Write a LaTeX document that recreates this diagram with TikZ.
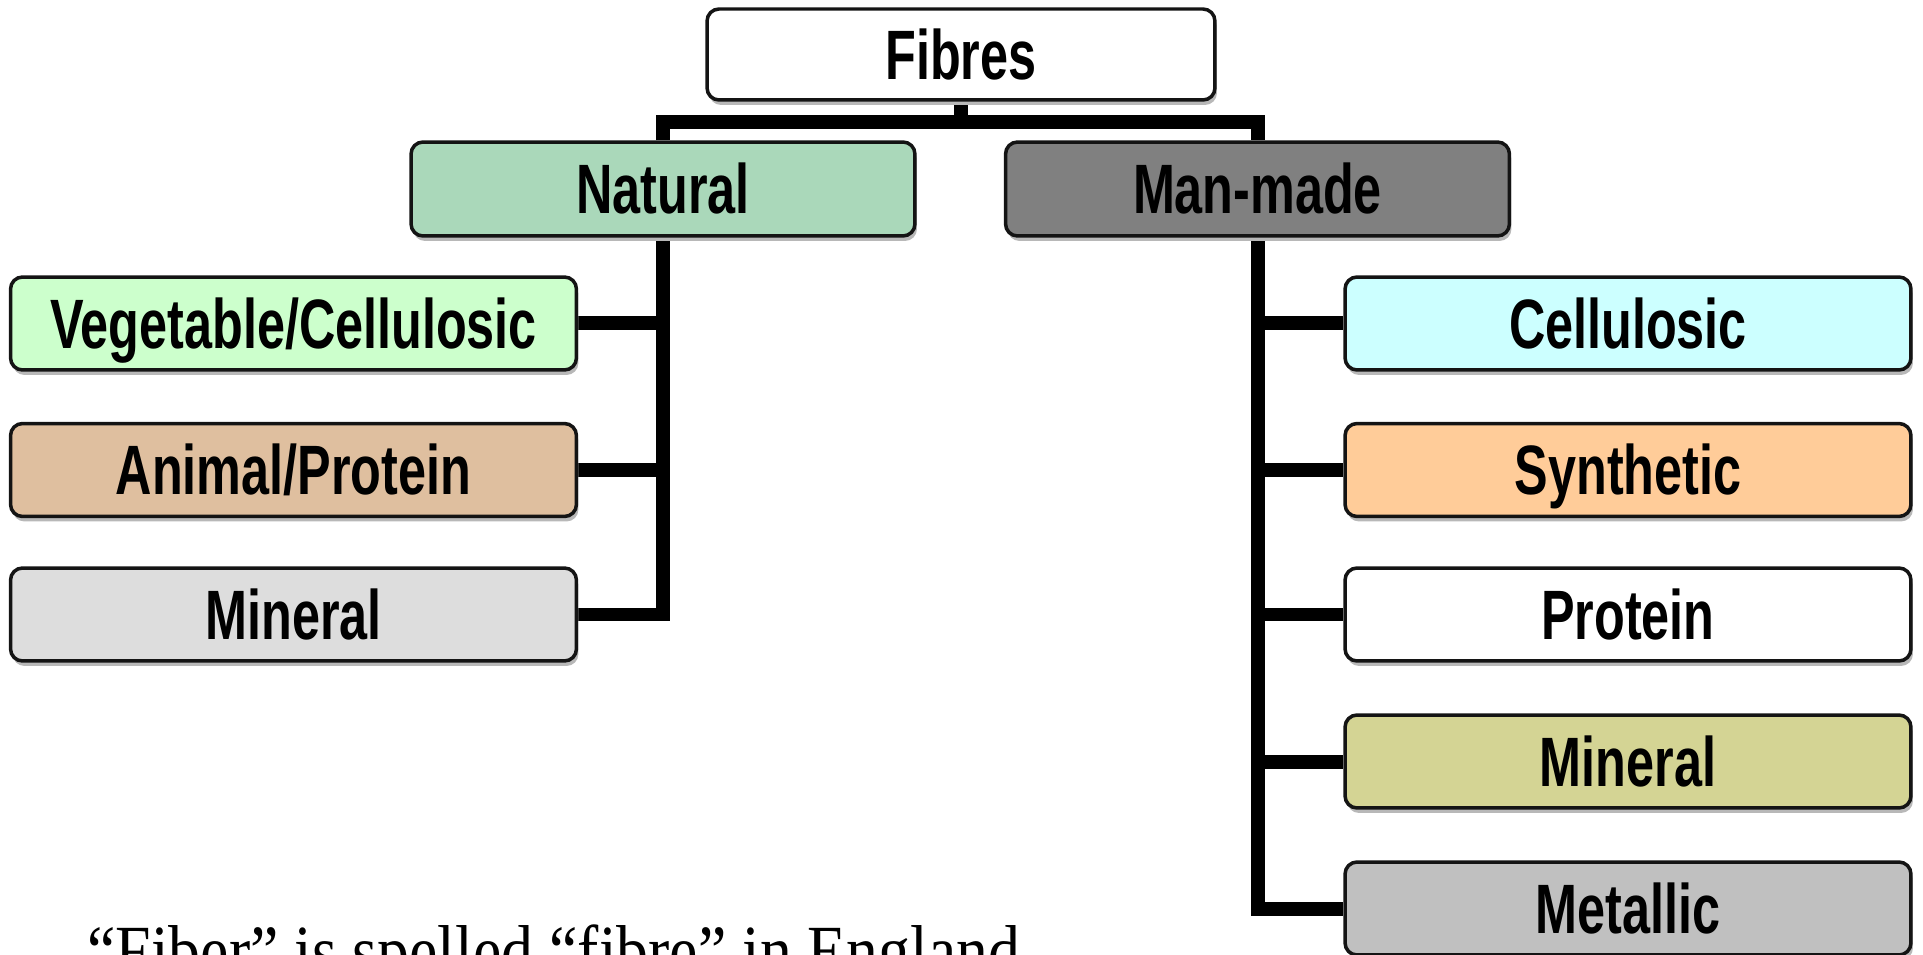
\documentclass[tikz,border=0pt]{standalone}
\usepackage{fontspec}
\usepackage{graphicx}
\usetikzlibrary{shadows}
\setmainfont{Liberation Sans}
\newfontfamily\notefont{Liberation Serif}[Ligatures=NoCommon]
\newcommand\narrowtext[1]{\scalebox{0.72}[1]{#1}}

\definecolor{natgreen}{RGB}{170,216,186}
\definecolor{mmgray}{RGB}{128,128,128}
\definecolor{vegfill}{RGB}{204,255,204}
\definecolor{animfill}{RGB}{223,191,159}
\definecolor{minlfill}{RGB}{221,221,221}
\definecolor{cellfill}{RGB}{204,255,255}
\definecolor{synfill}{RGB}{255,204,153}
\definecolor{minrfill}{RGB}{212,212,148}
\definecolor{metfill}{RGB}{192,192,192}

\pgfdeclarelayer{bg}
\pgfsetlayers{bg,main}

\begin{document}
\begin{tikzpicture}[x=0.02cm, y=-0.02cm,
  box/.style={draw=black!92, line width=0.07cm, rounded corners=0.24cm,
    inner sep=0pt, text height=1cm, text depth=0cm,
    font=\fontsize{39.8}{40}\selectfont\bfseries,
    drop shadow={shadow xshift=0.04cm, shadow yshift=-0.1cm,
      fill=black!28, opacity=1}},
  headbox/.style={box, minimum width=10.08cm, minimum height=1.88cm},
  leafbox/.style={box, minimum width=11.32cm, minimum height=1.86cm},
  conn/.style={line width=0.28cm, line join=miter, line cap=butt}]

\useasboundingbox (0,0) rectangle (1923,955);
\clip (0,0) rectangle (1923,955);

% root and the two main groups
\node[box, fill=white, minimum width=10.16cm, minimum height=1.82cm]
  (fibres) at (961,54.5) {\narrowtext{Fibres}};
\node[headbox, fill=natgreen] (natural) at (663,189) {\narrowtext{Natural}};
\node[headbox, fill=mmgray] (manmade) at (1257.5,189) {\narrowtext{Man-made}};

% natural fibres
\node[leafbox, fill=vegfill]  (veg)    at (293.5,323.5) {\narrowtext{Vegetable/Cellulosic}};
\node[leafbox, fill=animfill] (animal) at (293.5,470)   {\narrowtext{Animal/Protein}};
\node[leafbox, fill=minlfill] (minl)   at (293.5,614.5) {\narrowtext{Mineral}};

% man-made fibres
\node[leafbox, fill=cellfill] (cell)  at (1628,323.5) {\narrowtext{Cellulosic}};
\node[leafbox, fill=synfill]  (syn)   at (1628,470)   {\narrowtext{Synthetic}};
\node[leafbox, fill=white]    (prot)  at (1628,614.5) {\narrowtext{Protein}};
\node[leafbox, fill=minrfill] (minr)  at (1628,761.5) {\narrowtext{Mineral}};
\node[leafbox, fill=metfill]  (metal) at (1628,908.5) {\narrowtext{Metallic}};

% footnote
\node[anchor=base west, inner sep=0pt,
  font=\notefont\fontsize{41}{41}\selectfont]
  (note) at (87,975) {\scalebox{0.885}[1]{“Fiber” is spelled “fibre” in England}};

% tree connectors
\begin{pgfonlayer}{bg}
\coordinate (split) at (961,122);
\draw[conn] (fibres.south) -- (fibres.south |- split);
\draw[conn] (natural.north) -- (natural.north |- split)
  -- (manmade.north |- split) -- (manmade.north);
\foreach \leaf in {veg,animal,minl}
  \draw[conn] (natural.south) |- (\leaf.east);
\foreach \leaf in {cell,syn,prot,minr,metal}
  \draw[conn] (manmade.south) |- (\leaf.west);
\end{pgfonlayer}
\end{tikzpicture}
\end{document}
